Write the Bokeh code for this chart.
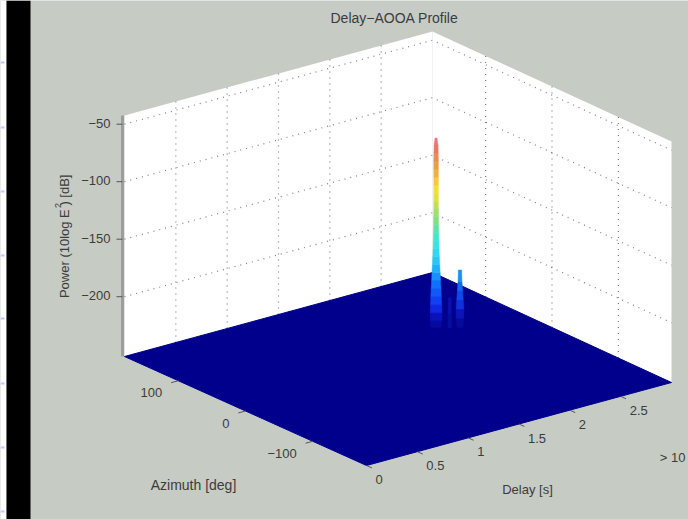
from bokeh.plotting import figure
from bokeh.models import Range1d
from bokeh.core.properties import value
from bokeh.embed import file_html
from bokeh.resources import INLINE

title = "Delay\u2212AOOA Profile"
delay_label = "Delay [s]"
azimuth_label = "Azimuth [deg]"
power_label = "Power (10log E  ) [dB]"
scale_note = "> 10"

delay_ticks = [0, 0.5, 1, 1.5, 2, 2.5]
delay_tick_labels = ["0", "0.5", "1", "1.5", "2", "2.5"]
azimuth_ticks = [100, 0, -100]
azimuth_tick_labels = ["100", "0", "\u2212100"]
power_ticks = [-50, -100, -150, -200]
power_tick_labels = ["\u221250", "\u2212100", "\u2212150", "\u2212200"]

delay_limits = (0, 3)
azimuth_limits = (-180, 180)
power_limits = (-252, -42.4)

main_delay, main_azimuth = 2.285, 64.4
main_power = [-252, -246, -239, -232, -225, -218, -211, -204, -197, -190, -183, -176,
              -169, -162, -155, -148, -142, -135, -128, -121, -114, -107, -100, -93, -87]
main_width = [.030, .036, .036, .034, .032, .030, .027, .025, .022, .020, .018, .017,
              .016, .015, .015, .014, .014, .014, .014, .014, .014, .014, .013, .012, .006]
main_color = ["#060a9c", "#0a12b8", "#1028e0", "#1040f0", "#1058f8", "#1070ff", "#1890fc",
              "#20b0f8", "#28c8f4", "#30d8f0", "#38e4dc", "#40e8c8", "#60e4a4", "#80e080",
              "#a0e068", "#c0e050", "#e0e040", "#f0e030", "#f8c838", "#f0b040", "#e8a048",
              "#e88c54", "#e87860", "#e87880", "#f0a0a8"]

second_delay, second_azimuth = 2.435, 51.5
second_power = [-252, -244, -236, -228, -220, -212, -202]
second_width = [.018, .024, .024, .020, .016, .012, .010]
second_color = ["#060a9c", "#0c14b8", "#1030d8", "#1048ea", "#1068f0", "#1890ee", "#20b0e8"]

third_delay, third_azimuth = 2.37, 57
third_power = [-252, -240, -226]
third_width = [.012, .010, .008]
third_color = ["#080c9c", "#0a10b0", "#0a12a8"]

page_marks_y = [62, 127, 191, 255, 318, 383, 447, 511]

BG = "#c6cbc4"
FONT = value("Liberation Sans")
INK = "#3c3c3c"
GRID = "#4a4a4a"
NAVY = "#00008c"

p = figure(width=688, height=519, toolbar_location=None, output_backend="svg",
           x_range=Range1d(0, 688), y_range=Range1d(519, 0),
           x_axis_location=None, y_axis_location=None, min_border=0,
           background_fill_color=BG, border_fill_color=BG, outline_line_color=None)
p.grid.visible = False


def project(d, a, z):
    """Bilinear floor projection plus a vertical lift for power."""
    u = (d - delay_limits[0]) / (delay_limits[1] - delay_limits[0])
    v = (a - azimuth_limits[0]) / (azimuth_limits[1] - azimuth_limits[0])
    front, right, left, back = (366, 465), (671, 382), (124, 356), (432, 272)
    x = (1-u)*(1-v)*front[0] + u*(1-v)*right[0] + (1-u)*v*left[0] + u*v*back[0]
    y = (1-u)*(1-v)*front[1] + u*(1-v)*right[1] + (1-u)*v*left[1] + u*v*back[1]
    return x, y - 1.15 * (z - power_limits[0])


d0, d1 = delay_limits
a0, a1 = azimuth_limits
z0, z1 = power_limits


def poly(*pts):
    xy = [project(*q) for q in pts]
    return [c[0] for c in xy], [c[1] for c in xy]


# white margin, black side bar and punch marks of the scan
p.quad(left=[0], right=[6], bottom=[519], top=[0], fill_color="white", line_color=None)
p.quad(left=[6], right=[30], bottom=[519], top=[0], fill_color="#000000", line_color=None)
p.quad(left=[0] * len(page_marks_y), right=[4] * len(page_marks_y),
       bottom=[m + 1 for m in page_marks_y], top=[m - 1 for m in page_marks_y],
       fill_color="#c4c8f0", line_color=None)

# walls
x, y = poly((d0, a1, z0), (d0, a1, z1), (d1, a1, z1), (d1, a1, z0))
p.patch(x, y, fill_color="white", line_color=None)
x, y = poly((d1, a1, z0), (d1, a1, z1), (d1, a0, z1), (d1, a0, z0))
p.patch(x, y, fill_color="white", line_color=None)

# power axis edge
x, y = poly((d0, a1, z0), (d0, a1, z1))
p.line([c - 2 for c in x], y, line_color="#9c9e9c", line_width=3)

# grid
xs, ys = [], []
for z in power_ticks:
    x, y = poly((d0, a1, z), (d1, a1, z), (d1, a0, z))
    xs.append(x); ys.append(y)
for d in delay_ticks[1:]:
    x, y = poly((d, a1, z0), (d, a1, z1))
    xs.append(x); ys.append(y)
for a in azimuth_ticks:
    x, y = poly((d1, a, z0), (d1, a, z1))
    xs.append(x); ys.append(y)
p.multi_line(xs, ys, line_color=GRID, line_dash="1 5", line_width=1.2, line_alpha=0.7)

# floor
x, y = poly((d0, a0, z0), (d1, a0, z0), (d1, a1, z0), (d0, a1, z0))
p.patch(x, y, fill_color=NAVY, line_color=NAVY, line_width=1)


def spike(d, a, powers, widths, colors):
    xs, ys = [], []
    for i in range(len(colors) - 1):
        zl, zh, wl, wh = powers[i], powers[i + 1], widths[i], widths[i + 1]
        x, y = poly((d - wl, a + 92 * wl, zl), (d + wl, a - 92 * wl, zl),
                    (d + wh, a - 92 * wh, zh), (d - wh, a + 92 * wh, zh))
        xs.append(x); ys.append(y)
    p.patches(xs, ys, fill_color=colors[:-1], line_color=colors[:-1], line_width=0.5)


spike(third_delay, third_azimuth, third_power, third_width, third_color)
spike(second_delay, second_azimuth, second_power, second_width, second_color)
spike(main_delay, main_azimuth, main_power, main_width, main_color)

# ticks
xs, ys = [], []
for z in power_ticks:
    x, y = poly((d0, a1, z))
    xs.append([x[0] - 8, x[0] - 2]); ys.append([y[0], y[0]])
for d in delay_ticks:
    x, y = poly((d, a0, z0), (d, a0 - 8, z0))
    xs.append(x); ys.append(y)
for a in azimuth_ticks:
    x, y = poly((d0, a, z0), (d0 - 0.07, a, z0))
    xs.append(x); ys.append(y)
p.multi_line(xs, ys, line_color="#555555", line_width=1)


def label(x, y, t, size="13px", align="center", angle=0.0):
    p.text([x], [y], text=[t], text_font=FONT, text_font_size=size, text_color=INK,
           text_align=align, text_baseline="middle", angle=angle)


for z, t in zip(power_ticks, power_tick_labels):
    x, y = project(d0, a1, z)
    label(x - 14, y - 1, t, align="right")
for d, t in zip(delay_ticks, delay_tick_labels):
    x, y = project(d, a0, z0)
    label(x + 9, y + 14, t, align="left")
for a, t in zip(azimuth_ticks, azimuth_tick_labels):
    x, y = project(d0, a, z0)
    label(x - 16, y + 12, t, align="right")

label(394, 17, title, size="14px")
label(193, 484, azimuth_label, size="14px")
label(527, 489, delay_label, size="13px")
label(685, 457, scale_note, align="right")
label(64, 234, power_label, size="13px", angle=1.5708)
label(57, 205, "2", size="9px", angle=1.5708)

open("out.html", "w").write(file_html(p, INLINE))
